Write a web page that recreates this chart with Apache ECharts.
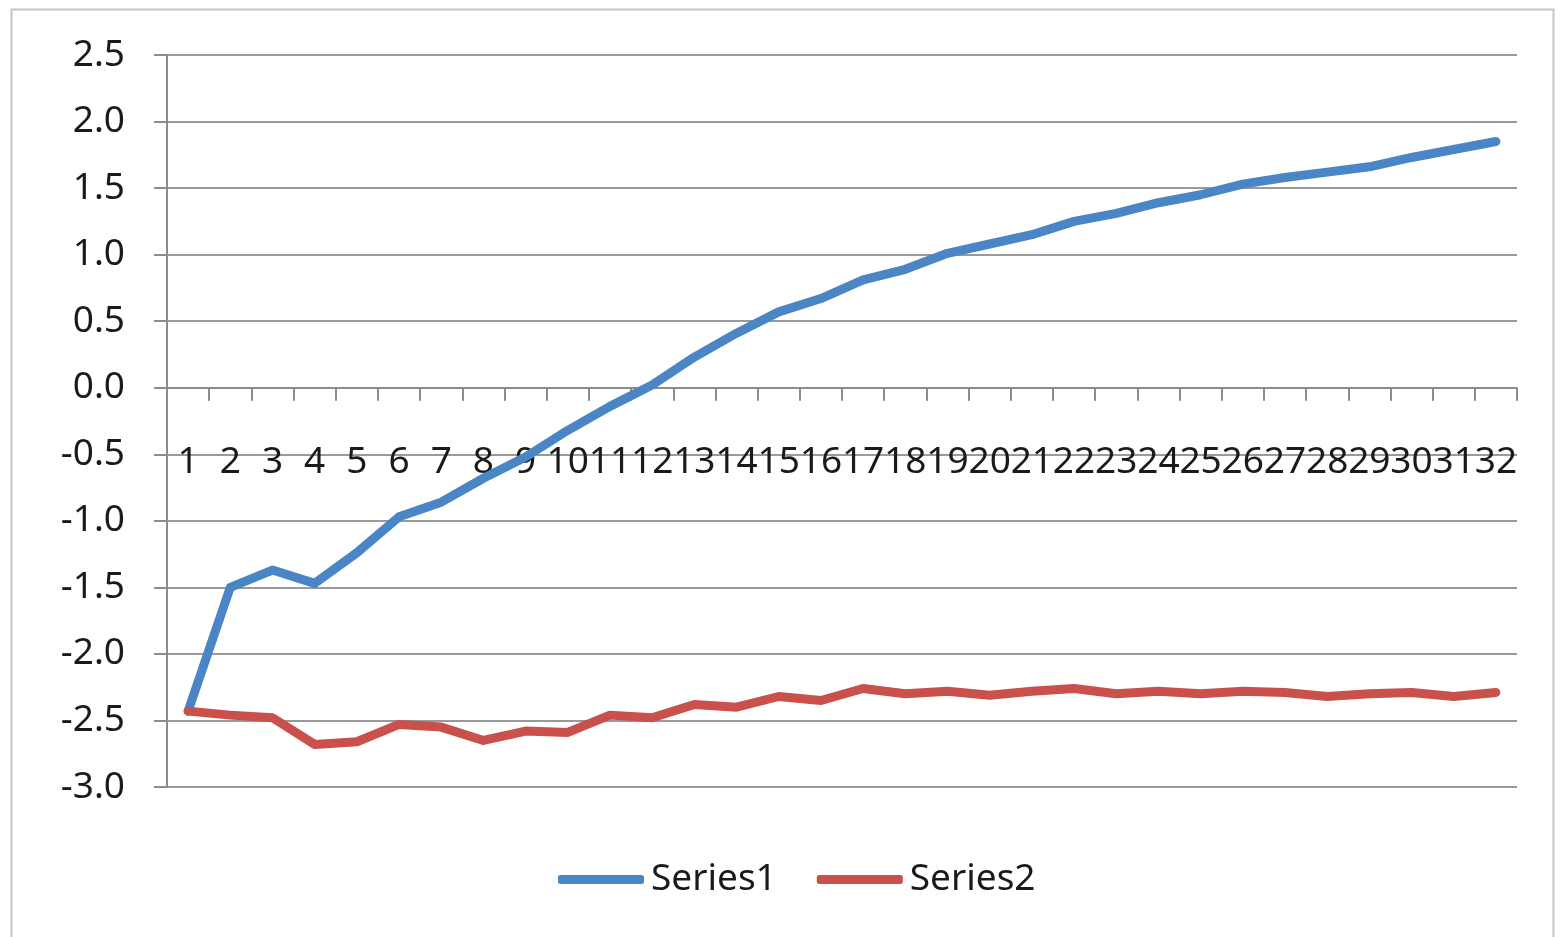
<!DOCTYPE html>
<html>
<head>
<meta charset="utf-8">
<script src="https://cdn.jsdelivr.net/npm/echarts@6/dist/echarts.min.js"></script>
<style>
html,body{margin:0;padding:0;background:#fff;}
#chart{width:1561px;height:937px;}
</style>
</head>
<body>
<div id="chart"></div>
<script>
const categories = ['1','2','3','4','5','6','7','8','9','10','11','12','13','14','15','16','17','18','19','20','21','22','23','24','25','26','27','28','29','30','31','32'];
const series1 = [-2.43,-1.50,-1.37,-1.47,-1.24,-0.97,-0.86,-0.68,-0.52,-0.32,-0.14,0.02,0.23,0.41,0.57,0.67,0.81,0.89,1.01,1.08,1.15,1.25,1.31,1.39,1.45,1.53,1.58,1.62,1.66,1.73,1.79,1.85];
const series2 = [-2.43,-2.46,-2.48,-2.68,-2.66,-2.53,-2.55,-2.65,-2.58,-2.59,-2.46,-2.48,-2.38,-2.40,-2.32,-2.35,-2.26,-2.30,-2.28,-2.31,-2.28,-2.26,-2.30,-2.28,-2.30,-2.28,-2.29,-2.32,-2.30,-2.29,-2.32,-2.29];
const yMin = -3.0, yMax = 2.5, yStep = 0.5;

const FONT = '"Noto Sans", "Open Sans", sans-serif';
const gridTop = 55, gridBottom = 150, H = 937;
const gridH = H - gridTop - gridBottom;
const zeroOffset = -((0 - yMin) / (yMax - yMin)) * gridH;

const chart = echarts.init(document.getElementById('chart'));
chart.setOption({
  animation: false,
  backgroundColor: '#fff',
  graphic: [{
    type: 'rect', left: 9, top: 7, silent: true,
    shape: { width: 1542, height: 945 },
    style: { fill: 'none', stroke: '#c4c4c4', lineWidth: 2 }
  }],
  grid: { left: 167, right: 44, top: gridTop, bottom: gridBottom, containLabel: false },
  legend: {
    left: 553, top: 856,
    itemWidth: 86, itemHeight: 9, itemGap: 40,
    icon: 'roundRect',
    textStyle: { fontFamily: FONT, fontSize: 37, color: '#1a1a1a', padding: [0,0,0,2] },
    data: ['Series1', 'Series2']
  },
  xAxis: {
    type: 'category', data: categories, boundaryGap: true,
    position: 'bottom', offset: zeroOffset,
    axisLine: { onZero: false, lineStyle: { color: '#8c8c8c', width: 2 } },
    axisTick: { show: true, length: 13, inside: false, lineStyle: { color: '#8c8c8c', width: 2 } },
    axisLabel: { interval: 0, margin: 56, fontFamily: FONT, fontSize: 37, color: '#1a1a1a' },
    splitLine: { show: false }
  },
  yAxis: {
    type: 'value', min: yMin, max: yMax, interval: yStep,
    axisLine: { show: true, lineStyle: { color: '#8c8c8c', width: 2 } },
    axisTick: { show: true, length: 13, lineStyle: { color: '#8c8c8c', width: 2 } },
    axisLabel: { margin: 42, fontFamily: FONT, fontSize: 37, color: '#1a1a1a', formatter: v => v.toFixed(1) },
    splitLine: { show: true, lineStyle: { color: '#9a9a9a', width: 2 } }
  },
  series: [
    { name: 'Series1', type: 'line', data: series1, symbol: 'none', color: '#4a86c5',
      lineStyle: { width: 9, color: '#4a86c5', cap: 'round', join: 'round' } },
    { name: 'Series2', type: 'line', data: series2, symbol: 'none', color: '#c9504b',
      lineStyle: { width: 9, color: '#c9504b', cap: 'round', join: 'round' } }
  ]
});
</script>
</body>
</html>
